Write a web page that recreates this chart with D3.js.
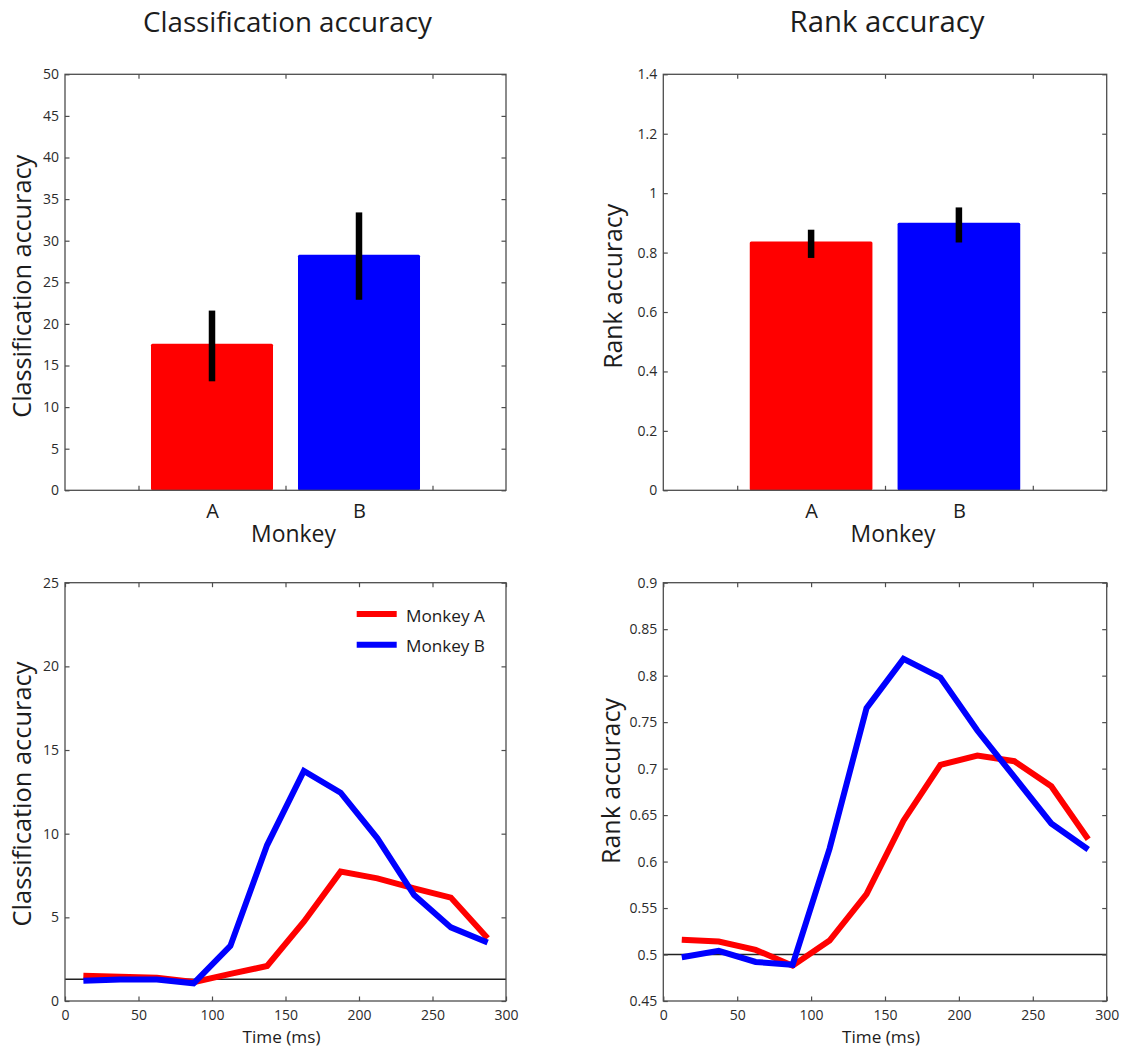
<!DOCTYPE html>
<html>
<head>
<meta charset="utf-8">
<script src="https://cdn.jsdelivr.net/npm/d3@7"></script>
<style>
  body { margin: 0; background: #fff; }
  text { font-family: "Open Sans", sans-serif; }
</style>
</head>
<body>
<svg id="fig" width="1137" height="1048"></svg>
<script>
// ---- data ----
const monkeys = ["A", "B"];
const seriesNames = ["Monkey A", "Monkey B"];
const seriesColors = ["#ff0000", "#0000ff"];

// mean decoding accuracy per monkey, with error-bar limits
const classAcc = [17.6, 28.3];
const classErrLo = [13.1, 22.9];
const classErrHi = [21.6, 33.4];
const rankAcc = [0.837, 0.900];
const rankErrLo = [0.782, 0.834];
const rankErrHi = [0.877, 0.952];

// time-resolved decoding (bin centres, ms)
const timeMs = [12.5, 37.5, 62.5, 87.5, 112.5, 137.5, 162.5, 187.5, 212.5, 237.5, 262.5, 287.5];
const classTimeA = [1.51, 1.45, 1.39, 1.13, 1.62, 2.09, 4.74, 7.73, 7.33, 6.73, 6.18, 3.75];
const classTimeB = [1.21, 1.29, 1.29, 1.06, 3.29, 9.32, 13.75, 12.45, 9.72, 6.33, 4.40, 3.50];
const rankTimeA = [0.516, 0.514, 0.505, 0.488, 0.515, 0.565, 0.644, 0.704, 0.714, 0.708, 0.681, 0.624];
const rankTimeB = [0.497, 0.504, 0.492, 0.489, 0.614, 0.765, 0.818, 0.798, 0.741, 0.691, 0.641, 0.613];
const classChance = 1.3;
const rankChance = 0.5;

// axis ticks
const classBarTicks = [0, 5, 10, 15, 20, 25, 30, 35, 40, 45, 50];
const classBarLabels = ["0", "5", "10", "15", "20", "25", "30", "35", "40", "45", "50"];
const rankBarTicks = [0, 0.2, 0.4, 0.6, 0.8, 1, 1.2, 1.4];
const rankBarLabels = ["0", "0.2", "0.4", "0.6", "0.8", "1", "1.2", "1.4"];
const classTimeTicks = [0, 5, 10, 15, 20, 25];
const classTimeLabels = ["0", "5", "10", "15", "20", "25"];
const rankTimeTicks = [0.45, 0.5, 0.55, 0.6, 0.65, 0.7, 0.75, 0.8, 0.85, 0.9];
const rankTimeLabels = ["0.45", "0.5", "0.55", "0.6", "0.65", "0.7", "0.75", "0.8", "0.85", "0.9"];
const timeTicks = [0, 50, 100, 150, 200, 250, 300];
const timeLabels = ["0", "50", "100", "150", "200", "250", "300"];
const barSlotTicks = [0.5, 1.5, 2.5];

// ---- layout ----
const svg = d3.select("#fig");
const TICK = 4.5;
const FRAME = "#4d4d4d";
const INK = "#1c1c1c";
const cols = [[65, 506], [663.3, 1106.7]];
const rows = [[74.3, 490.3], [582.7, 1001]];

function fitWidth(sel, target) {
  const w = sel.node().getComputedTextLength();
  const fs = parseFloat(sel.attr("font-size"));
  sel.attr("font-size", fs * target / w);
  return sel;
}

function styleAxis(g, fontSize) {
  g.select(".domain").remove();
  g.selectAll(".tick line").attr("stroke", FRAME).attr("stroke-width", 1.2);
  g.selectAll(".tick text")
    .attr("fill", "#2b2b2b")
    .attr("font-size", fontSize)
    .attr("font-family", "'Open Sans', sans-serif");
}

// boxed axes with inward ticks on all four sides
function boxAxes(g, x, y, xTicks, xLabels, yTicks, yLabels) {
  const [xa, xb] = x.range();
  const [yb, ya] = y.range();
  g.append("g").attr("transform", `translate(0,${yb})`)
    .call(d3.axisBottom(x).tickValues(xTicks).tickSizeInner(-TICK).tickSizeOuter(0).tickPadding(9)
      .tickFormat((d, i) => xLabels ? xLabels[i] : ""))
    .call(s => styleAxis(s, 14));
  g.append("g").attr("transform", `translate(0,${ya})`)
    .call(d3.axisTop(x).tickValues(xTicks).tickSizeInner(-TICK).tickSizeOuter(0).tickFormat(""))
    .call(s => styleAxis(s, 14));
  g.append("g").attr("transform", `translate(${xa},0)`)
    .call(d3.axisLeft(y).tickValues(yTicks).tickSizeInner(-TICK).tickSizeOuter(0).tickPadding(6)
      .tickFormat((d, i) => yLabels[i]))
    .call(s => styleAxis(s, 14));
  g.append("g").attr("transform", `translate(${xb},0)`)
    .call(d3.axisRight(y).tickValues(yTicks).tickSizeInner(-TICK).tickSizeOuter(0).tickFormat(""))
    .call(s => styleAxis(s, 14));
  g.append("rect")
    .attr("x", xa).attr("y", ya).attr("width", xb - xa).attr("height", yb - ya)
    .attr("fill", "none").attr("stroke", FRAME).attr("stroke-width", 1.3);
}

function yTitle(g, text, bx, cy, len) {
  const t = g.append("text")
    .attr("transform", `translate(${bx},${cy}) rotate(-90)`)
    .attr("text-anchor", "middle").attr("fill", INK)
    .attr("font-size", 26).text(text);
  fitWidth(t, len);
}

function centeredText(g, text, cx, by, size, len) {
  const t = g.append("text").attr("x", cx).attr("y", by)
    .attr("text-anchor", "middle").attr("fill", INK)
    .attr("font-size", size).text(text);
  if (len) fitWidth(t, len);
  return t;
}

// ---- bar panels ----
function barPanel(col, vals, lo, hi, yMax, yTicks, yLabels, title, titleLen, yLab, yLabX, yLabLen) {
  const g = svg.append("g");
  const x = d3.scaleLinear().domain([0, 3]).range(cols[col]);
  const y = d3.scaleLinear().domain([0, yMax]).range([rows[0][1], rows[0][0]]);
  const bw = x(0.83) - x(0);

  g.selectAll("rect.bar").data(vals).join("rect").attr("class", "bar")
    .attr("x", (d, i) => x(i + 1) - bw / 2)
    .attr("width", bw)
    .attr("y", d => y(d))
    .attr("height", d => y(0) - y(d))
    .attr("rx", 1.5)
    .attr("fill", (d, i) => seriesColors[i]);

  g.selectAll("line.err").data(vals).join("line").attr("class", "err")
    .attr("x1", (d, i) => x(i + 1)).attr("x2", (d, i) => x(i + 1))
    .attr("y1", (d, i) => y(lo[i])).attr("y2", (d, i) => y(hi[i]))
    .attr("stroke", "#000").attr("stroke-width", 6.5);

  boxAxes(g, x, y, barSlotTicks, null, yTicks, yLabels);

  // category labels
  g.append("g").attr("transform", `translate(0,${rows[0][1]})`)
    .call(d3.axisBottom(x).tickValues([1, 2]).tickSize(0).tickPadding(13.5)
      .tickFormat((d, i) => monkeys[i]))
    .call(s => { s.select(".domain").remove();
      s.selectAll("text").attr("font-size", 20).attr("fill", INK)
        .attr("font-family", "'Open Sans', sans-serif"); });

  const cx = (cols[col][0] + cols[col][1]) / 2;
  centeredText(g, "Monkey", cx + 8, 542, 23, 85);
  centeredText(g, title, cx + 2, 32, 30, titleLen);
  yTitle(g, yLab, yLabX, (rows[0][0] + rows[0][1]) / 2 + 4, yLabLen);
}

barPanel(0, classAcc, classErrLo, classErrHi, 50, classBarTicks, classBarLabels,
  "Classification accuracy", 289, "Classification accuracy", 31, 263);
barPanel(1, rankAcc, rankErrLo, rankErrHi, 1.4, rankBarTicks, rankBarLabels,
  "Rank accuracy", 195, "Rank accuracy", 622, 165);

// ---- time-course panels ----
function timePanel(col, yDom, yTicks, yLabels, seriesA, seriesB, chance, yLab, yLabX, yLabCy, yLabLen, legend) {
  const g = svg.append("g");
  const x = d3.scaleLinear().domain([0, 300]).range(cols[col]);
  const y = d3.scaleLinear().domain(yDom).range([rows[1][1], rows[1][0]]);

  g.append("line")
    .attr("x1", x(0)).attr("x2", x(300))
    .attr("y1", y(chance)).attr("y2", y(chance))
    .attr("stroke", "#222").attr("stroke-width", 1.3);

  const line = d3.line().x((d, i) => x(timeMs[i])).y(d => y(d));
  [seriesA, seriesB].forEach((s, k) => {
    g.append("path").datum(s).attr("d", line)
      .attr("fill", "none").attr("stroke", seriesColors[k])
      .attr("stroke-width", 6).attr("stroke-linejoin", "miter").attr("stroke-linecap", "butt");
  });

  boxAxes(g, x, y, timeTicks, timeLabels, yTicks, yLabels);

  const cx = (cols[col][0] + cols[col][1]) / 2;
  centeredText(g, "Time (ms)", cx - 4, 1043, 17, 78);
  yTitle(g, yLab, yLabX, yLabCy, yLabLen);

  if (legend) {
    const lg = g.append("g");
    seriesNames.forEach((name, k) => {
      const ly = 614 + k * 30.7;
      lg.append("line").attr("x1", 356.7).attr("x2", 396.7).attr("y1", ly).attr("y2", ly)
        .attr("stroke", seriesColors[k]).attr("stroke-width", 6);
      const t = lg.append("text").attr("x", 406).attr("y", ly + 7.5)
        .attr("fill", INK).attr("font-size", 17).text(name);
      fitWidth(t, 79);
    });
  }
}

timePanel(0, [0, 25], classTimeTicks, classTimeLabels, classTimeA, classTimeB, classChance,
  "Classification accuracy", 31, 794, 265, true);
timePanel(1, [0.45, 0.9], rankTimeTicks, rankTimeLabels, rankTimeA, rankTimeB, rankChance,
  "Rank accuracy", 620, 781, 166, false);
</script>
</body>
</html>
